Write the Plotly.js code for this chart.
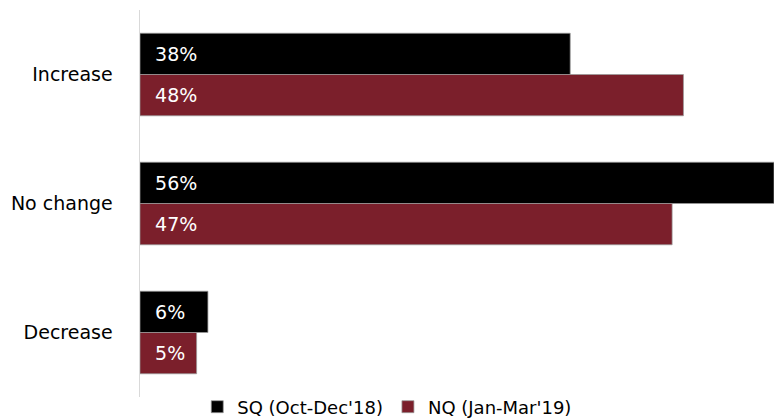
<!DOCTYPE html>
<html>
<head>
<meta charset="utf-8">
<script src="https://cdn.plot.ly/plotly-3.0.1.min.js"></script>
<style>html,body{margin:0;padding:0;background:#fff;}#chart{width:774px;height:419px;}</style>
</head>
<body>
<div id="chart"></div>
<script>
var categories = ["Increase", "No change", "Decrease"];
var seriesNames = ["SQ (Oct-Dec'18)", "NQ (Jan-Mar'19)"];
var sqValues = [38, 56, 6];
var nqValues = [48, 47, 5];
var colors = ["#000000", "#7b1f2b"];
var fontFamily = "'DejaVu Sans', sans-serif";

function labels(vals) {
  return vals.map(function (v) { return "\u00a0\u00a0" + v + "%"; });
}

var traces = [sqValues, nqValues].map(function (vals, i) {
  return {
    type: "bar",
    orientation: "h",
    name: seriesNames[i],
    y: categories,
    x: vals,
    text: labels(vals),
    textposition: "inside",
    insidetextanchor: "start",
    textfont: {color: "#ffffff", size: 19, family: fontFamily},
    marker: {color: colors[i], line: {color: "#9a9a9a", width: 0.75}},
    hoverinfo: "skip",
    cliponaxis: false
  };
});

var layout = {
  width: 774,
  height: 419,
  margin: {l: 140, r: 0, t: 10, b: 22, autoexpand: false},
  paper_bgcolor: "#ffffff",
  plot_bgcolor: "#ffffff",
  font: {family: fontFamily, size: 19, color: "#000000"},
  barmode: "group",
  bargap: 0.36,
  bargroupgap: 0,
  showlegend: true,
  legend: {
    orientation: "h",
    x: 0.39,
    xanchor: "center",
    y: 0.022,
    yanchor: "top",
    traceorder: "normal",
    font: {size: 18, family: fontFamily},
    itemwidth: 30,
    tracegroupgap: 0
  },
  xaxis: {
    range: [0, 56],
    showgrid: false,
    zeroline: false,
    showticklabels: false,
    showline: false,
    fixedrange: true
  },
  yaxis: {
    autorange: "reversed",
    showgrid: false,
    zeroline: false,
    showline: true,
    linecolor: "#d9d9d9",
    linewidth: 1.5,
    ticks: "",
    ticklabelstandoff: 22,
    tickfont: {size: 19, family: fontFamily, color: "#000000"}
  }
};

Plotly.newPlot("chart", traces, layout, {displayModeBar: false, staticPlot: true});
</script>
</body>
</html>
